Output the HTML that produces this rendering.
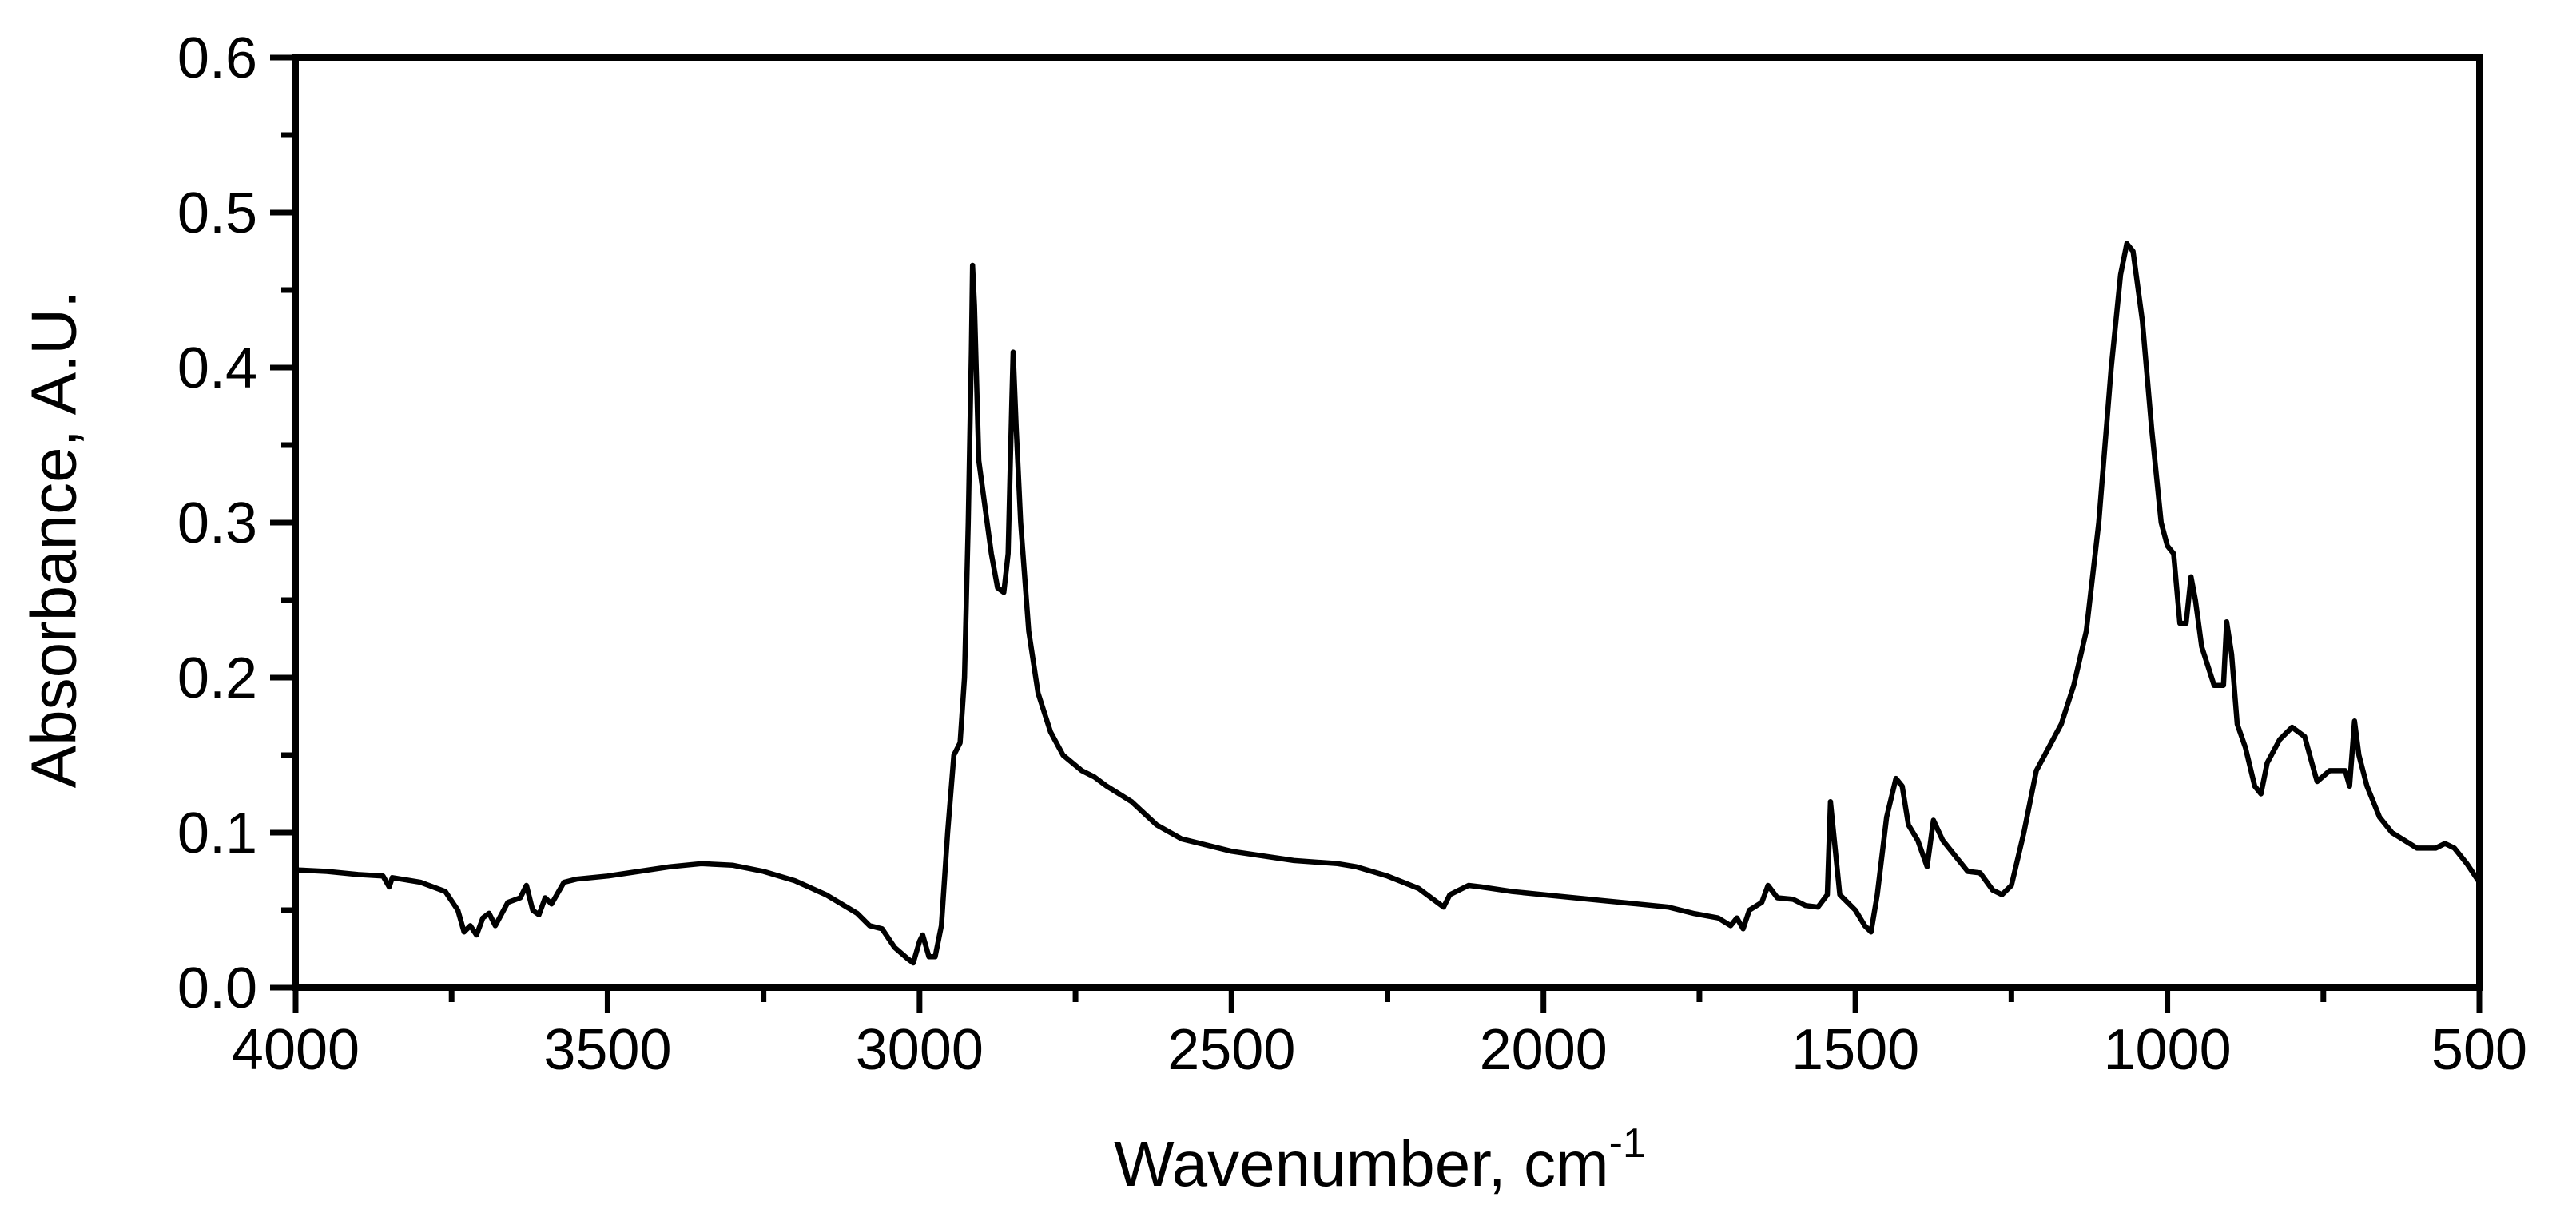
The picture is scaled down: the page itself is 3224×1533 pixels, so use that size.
<!DOCTYPE html>
<html><head><meta charset="utf-8"><style>
html,body{margin:0;padding:0;background:#fff;}
svg{display:block;}
text{font-family:"Liberation Sans",Arial,sans-serif;fill:#000;}
</style></head><body>
<svg id="chart" width="3224" height="1533" viewBox="0 0 3224 1533" xmlns="http://www.w3.org/2000/svg">
<rect x="0" y="0" width="3224" height="1533" fill="#fff"/>
<g id="ticks"></g>
<g id="labels"></g>
<path id="series" fill="none" stroke="#000" stroke-width="6.5" stroke-linejoin="round"/>
<rect x="370" y="72" width="2733" height="1164" fill="none" stroke="#000" stroke-width="8"/>
<text x="67" y="675" font-size="80" text-anchor="middle" transform="rotate(-90 67 675)" dominant-baseline="central">Absorbance, A.U.</text>
<text x="1727" y="1484" font-size="80" text-anchor="middle">Wavenumber, cm<tspan font-size="52" dy="-36">-1</tspan></text>
</svg>
<script>
const wavenumbers = [4000,3950,3900,3860,3850,3845,3800,3760,3740,3730,3720,3710,3700,3690,3680,3660,3640,3630,3620,3610,3600,3590,3570,3550,3500,3450,3400,3350,3300,3250,3200,3150,3100,3080,3060,3040,3020,3010,3000,2995,2985,2975,2965,2955,2945,2935,2928,2922,2917,2915,2912,2905,2895,2885,2875,2865,2858,2852,2850,2845,2838,2825,2810,2790,2770,2740,2720,2700,2660,2620,2580,2500,2400,2330,2300,2250,2200,2160,2150,2120,2100,2050,2000,1950,1900,1850,1800,1760,1720,1700,1690,1680,1670,1650,1640,1625,1600,1580,1560,1545,1540,1535,1525,1500,1485,1475,1465,1450,1435,1425,1415,1400,1385,1375,1360,1340,1320,1300,1280,1265,1250,1230,1210,1190,1170,1150,1130,1110,1090,1075,1065,1055,1040,1025,1010,1000,990,980,970,962,955,945,925,910,905,897,888,875,860,850,840,820,800,780,765,760,740,715,708,700,693,680,660,640,600,570,555,540,520,500];
const absorbance = [0.076,0.075,0.073,0.072,0.065,0.071,0.068,0.062,0.050,0.036,0.040,0.034,0.045,0.048,0.040,0.055,0.058,0.066,0.050,0.047,0.058,0.054,0.068,0.070,0.072,0.075,0.078,0.080,0.079,0.075,0.069,0.060,0.048,0.040,0.038,0.026,0.019,0.016,0.030,0.034,0.020,0.020,0.040,0.100,0.150,0.158,0.200,0.300,0.410,0.466,0.440,0.340,0.310,0.280,0.258,0.255,0.280,0.380,0.410,0.360,0.300,0.230,0.190,0.165,0.150,0.140,0.136,0.130,0.120,0.105,0.096,0.088,0.082,0.080,0.078,0.072,0.064,0.052,0.060,0.066,0.065,0.062,0.060,0.058,0.056,0.054,0.052,0.048,0.045,0.040,0.045,0.038,0.050,0.055,0.066,0.058,0.057,0.053,0.052,0.060,0.120,0.100,0.060,0.050,0.040,0.036,0.060,0.110,0.135,0.130,0.105,0.095,0.078,0.108,0.095,0.085,0.075,0.074,0.063,0.060,0.066,0.100,0.140,0.155,0.170,0.195,0.230,0.300,0.400,0.460,0.480,0.475,0.430,0.360,0.300,0.285,0.280,0.235,0.235,0.265,0.250,0.220,0.195,0.195,0.236,0.215,0.170,0.155,0.130,0.125,0.145,0.160,0.168,0.162,0.140,0.133,0.140,0.140,0.130,0.172,0.150,0.130,0.110,0.100,0.090,0.090,0.093,0.090,0.080,0.068];
const xTicks = [4000,3500,3000,2500,2000,1500,1000,500];
const xTickLabels = ["4000","3500","3000","2500","2000","1500","1000","500"];
const yTicks = [0,0.1,0.2,0.3,0.4,0.5,0.6];
const yTickLabels = ["0.0","0.1","0.2","0.3","0.4","0.5","0.6"];

const X0=370,X1=3103,Y0=1236,Y1=72;
function xs(w){return X0+(4000-w)/3500*(X1-X0);}
function ys(v){return Y0-v/0.6*(Y0-Y1);}
const NS="http://www.w3.org/2000/svg";
const tg=document.getElementById('ticks'), lg=document.getElementById('labels');
function line(x1,y1,x2,y2,name){
  const l=document.createElementNS(NS,'line');
  l.setAttribute('x1',x1);l.setAttribute('y1',y1);l.setAttribute('x2',x2);l.setAttribute('y2',y2);
  l.setAttribute('stroke','#000');l.setAttribute('stroke-width','7');
  
  
  tg.appendChild(l);
}
for(let w=4000;w>=500;w-=250){
  const major=(w%500===0);
  line(xs(w),Y0,xs(w),Y0+(major?32:18),major?'x-major-tick':'x-minor-tick');
}
for(let k=0;k<=12;k++){
  const v=k*0.05, major=(k%2===0);
  line(X0,ys(v),X0-(major?32:18),ys(v),major?'y-major-tick':'y-minor-tick');
}
xTicks.forEach((w,i)=>{
  const t=document.createElementNS(NS,'text');
  t.setAttribute('x',xs(w));t.setAttribute('y',1338);t.setAttribute('font-size','72');
  t.setAttribute('text-anchor','middle');t.textContent=xTickLabels[i];
  
  
  lg.appendChild(t);
});
yTicks.forEach((v,i)=>{
  const t=document.createElementNS(NS,'text');
  t.setAttribute('x',322);t.setAttribute('y',ys(v)+25);t.setAttribute('font-size','72');
  t.setAttribute('text-anchor','end');t.textContent=yTickLabels[i];
  
  
  lg.appendChild(t);
});
let d='';
wavenumbers.forEach((w,i)=>{d+=(i?'L':'M')+xs(w).toFixed(1)+','+ys(absorbance[i]).toFixed(1);});
document.getElementById('series').setAttribute('d',d);
</script>
</body></html>
